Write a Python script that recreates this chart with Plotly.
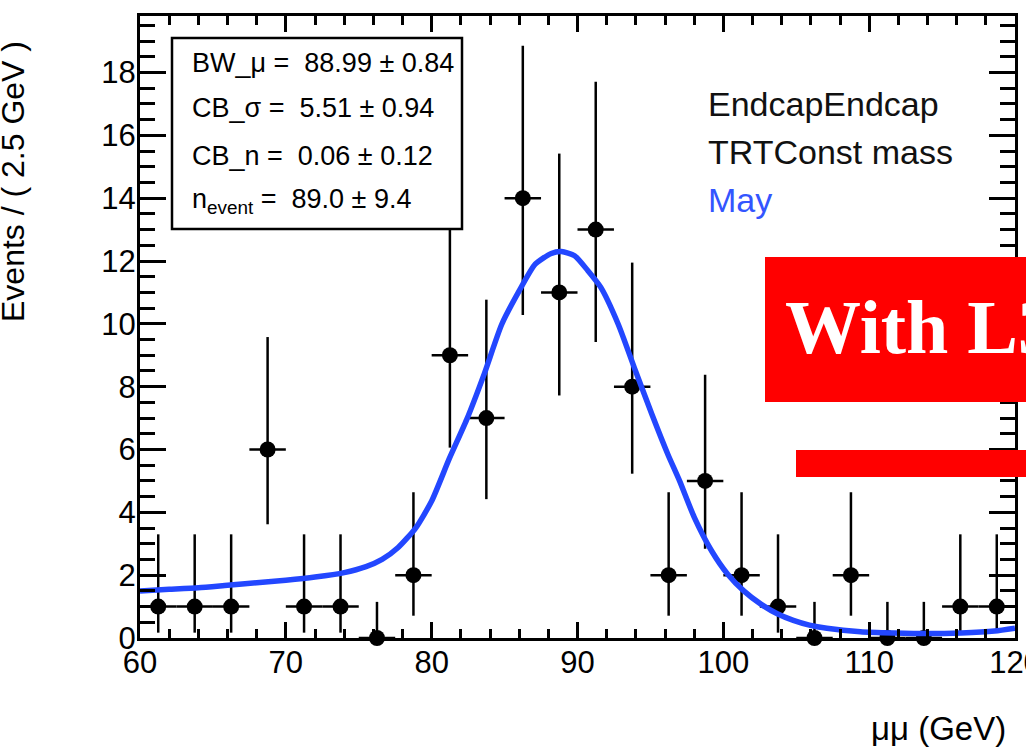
import plotly.graph_objects as go

# ---- data ----
bin_centers = [61.25, 63.75, 66.25, 68.75, 71.25, 73.75, 76.25, 78.75, 81.25, 83.75,
               86.25, 88.75, 91.25, 93.75, 96.25, 98.75, 101.25, 103.75, 106.25, 108.75,
               111.25, 113.75, 116.25, 118.75]
counts = [1, 1, 1, 6, 1, 1, 0, 2, 9, 7, 14, 11, 13, 8, 2, 5, 2, 1, 0, 2, 0, 0, 1, 1]
err_up = [2.30, 2.30, 2.30, 3.58, 2.30, 2.30, 1.15, 2.64, 4.11, 3.77, 4.85, 4.42, 4.71,
          3.95, 2.64, 3.38, 2.64, 2.30, 1.15, 2.64, 1.15, 1.15, 2.30, 2.30]
err_down = [0.83, 0.83, 0.83, 2.38, 0.83, 0.83, 0.0, 1.29, 2.94, 2.58, 3.72, 3.28, 3.58,
            2.77, 1.29, 2.16, 1.29, 0.83, 0.0, 1.29, 0.0, 0.0, 0.83, 0.83]
bin_half_width = 1.25

fit_x = [60, 62, 64, 66, 68, 70, 72, 74, 75.5, 76.6, 77.7, 78.9, 80.0, 81.2, 82.4, 83.6,
         84.8, 86.0, 87.1, 88.2, 88.9, 89.8, 90.7, 91.6, 92.8, 93.9, 95.1, 96.2, 97.0,
         98.0, 99.2, 100.3, 101.4, 102.6, 103.7, 104.8, 105.9, 107.1, 109.4, 111.7,
         114.0, 116.3, 118.6, 120.0]
fit_y = [1.5, 1.55, 1.6, 1.68, 1.76, 1.84, 1.94, 2.08, 2.27, 2.5, 2.88, 3.5, 4.36, 5.7,
         6.95, 8.4, 9.98, 11.05, 11.9, 12.24, 12.3, 12.17, 11.7, 11.16, 9.98, 8.6, 7.12,
         5.84, 5.0, 3.85, 2.77, 2.03, 1.5, 1.07, 0.77, 0.56, 0.41, 0.31, 0.2, 0.16, 0.14,
         0.16, 0.22, 0.31]

stats_lines = ["BW_\u03bc =  88.99 \u00b1 0.84",
               "CB_\u03c3 =  5.51 \u00b1 0.94",
               "CB_n =  0.06 \u00b1 0.12",
               "n<sub>event</sub> =  89.0 \u00b1 9.4"]
info_lines = ["EndcapEndcap", "TRTConst mass", "May"]
x_ticks = [60, 70, 80, 90, 100, 110, 120]
y_ticks = [0, 2, 4, 6, 8, 10, 12, 14, 16, 18]

# ---- layout geometry (window pixels) ----
W, H = 1026, 749
PLOT_L, PLOT_R, PLOT_T, PLOT_B = 140, 1015, 16, 638
L, R, T, B = PLOT_L, W - PLOT_R, PLOT_T, H - PLOT_B
PW, PH = PLOT_R - PLOT_L, PLOT_B - PLOT_T


def px(xp):
    return (xp - PLOT_L) / PW


def py(yp):
    return (PLOT_B - yp) / PH


SANS = "Liberation Sans"
BLUE = "#2347ff"

fig = go.Figure()
fig.add_trace(go.Scatter(
    x=bin_centers, y=counts, mode="markers",
    marker=dict(color="black", size=16),
    error_y=dict(type="data", symmetric=False, array=err_up, arrayminus=err_down,
                 color="black", thickness=2.5, width=0),
    error_x=dict(type="constant", value=bin_half_width, color="black",
                 thickness=2.5, width=0),
    cliponaxis=False, showlegend=False))
fig.add_trace(go.Scatter(
    x=fit_x, y=fit_y, mode="lines",
    line=dict(color=BLUE, width=5.5, shape="spline", smoothing=0.6),
    showlegend=False))

axis_common = dict(showline=True, linecolor="black", linewidth=3, mirror="ticks",
                   ticks="inside", tickcolor="black", tickwidth=2.5,
                   showgrid=False, zeroline=False, automargin=False,
                   ticklabeloverflow="allow",
                   tickfont=dict(family=SANS, size=31, color="black"))

fig.update_xaxes(range=[60, 120], tickvals=x_ticks, ticklen=16, ticklabelstandoff=-5,
                 minor=dict(dtick=2, tick0=60, ticklen=9, tickwidth=2.5,
                            tickcolor="black", ticks="inside"),
                 **axis_common)
fig.update_yaxes(range=[0, 19.8], tickvals=y_ticks, ticklen=26, ticklabelstandoff=-5,
                 minor=dict(dtick=0.5, tick0=0, ticklen=15, tickwidth=2.5,
                            tickcolor="black", ticks="inside"),
                 **axis_common)

shapes = [
    dict(type="rect", xref="paper", yref="paper", x0=px(172), x1=px(462),
         y0=py(229), y1=py(38), line=dict(color="black", width=2.5),
         fillcolor="white", layer="above"),
    dict(type="rect", xref="paper", yref="paper", x0=px(765), x1=px(1040),
         y0=py(402), y1=py(257), line=dict(width=0), fillcolor="#ff0000",
         layer="above"),
    dict(type="rect", xref="paper", yref="paper", x0=px(796), x1=px(1040),
         y0=py(477), y1=py(450), line=dict(width=0), fillcolor="#ff0000",
         layer="above"),
]

annotations = []
for txt, yc in zip(stats_lines, [63, 108, 156, 201]):
    annotations.append(dict(text=txt, xref="paper", yref="paper", x=px(190), y=py(yc),
                            xanchor="left", yanchor="middle", showarrow=False,
                            font=dict(family=SANS, size=27, color="black")))
for txt, yc, col in zip(info_lines, [104, 152, 200], ["#111111", "#111111", "#3355ff"]):
    annotations.append(dict(text=txt, xref="paper", yref="paper", x=px(706), y=py(yc),
                            xanchor="left", yanchor="middle", showarrow=False,
                            font=dict(family=SANS, size=34, color=col)))
annotations.append(dict(text="<b>With L3</b>", xref="paper", yref="paper",
                        x=px(783), y=py(327), xanchor="left", yanchor="middle",
                        showarrow=False,
                        font=dict(family="Liberation Serif", size=76, color="white")))
annotations.append(dict(text="Events / ( 2.5 GeV )", xref="paper", yref="paper",
                        x=px(13), y=py(182), xanchor="center", yanchor="middle",
                        textangle=-90, showarrow=False,
                        font=dict(family=SANS, size=32, color="black")))
annotations.append(dict(text="\u03bc\u03bc (GeV)", xref="paper", yref="paper",
                        x=px(1008), y=py(728), xanchor="right", yanchor="middle",
                        showarrow=False,
                        font=dict(family=SANS, size=33, color="black")))

fig.update_layout(width=W, height=H, margin=dict(l=L, r=R, t=T, b=B),
                  paper_bgcolor="white", plot_bgcolor="white", showlegend=False,
                  shapes=shapes, annotations=annotations)

fig.write_html(
    "out.html",
    config={"displayModeBar": False},
    post_script=("document.documentElement.style.overflow='hidden';"
                 "document.body.style.margin='0';"
                 "document.body.style.overflow='hidden';"))
